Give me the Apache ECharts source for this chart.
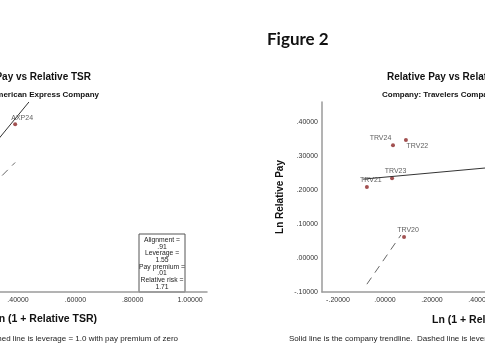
<!DOCTYPE html>
<html>
<head>
<meta charset="utf-8">
<script src="https://cdn.jsdelivr.net/npm/echarts@6/dist/echarts.min.js"></script>
<style>html,body{margin:0;padding:0;background:#fff}#c{width:485px;height:360px}</style>
</head>
<body>
<div id="c"></div>
<script>
// ---- Data: left panel (American Express) ----
const axpNames = ['AXP24'];
const axpX = [0.39];
const axpY = [0.523];
const axpTrendX = [0.10, 0.438];
const axpTrendY = [0.19, 0.60];
const axpLevX = [0.00, 0.39];
const axpLevY = [0.00, 0.39];
const axpStats = ['Alignment =', '.91', 'Leverage =', '1.55', 'Pay premium =', '.01', 'Relative risk =', '1.71'];

// ---- Data: right panel (Travelers) ----
const trvNames = ['TRV20', 'TRV21', 'TRV22', 'TRV23', 'TRV24'];
const trvX = [0.081, -0.077, 0.089, 0.030, 0.034];
const trvY = [0.062, 0.209, 0.347, 0.235, 0.332];
const trvTrendX = [-0.094, 1.0];
const trvTrendY = [0.232, 0.301];
const trvLevX = [-0.077, 0.068];
const trvLevY = [-0.077, 0.068];

// tick values
const xTicks = [-0.2, 0.0, 0.2, 0.4, 0.6, 0.8, 1.0];
const yTicksRight = [-0.1, 0.0, 0.1, 0.2, 0.3, 0.4];

// ---- styling ----
const labelOffsets = {
  AXP24: [7, -6], TRV20: [4, -7], TRV21: [4, -7], TRV22: [11.5, 6], TRV23: [3.5, -7], TRV24: [-12.5, -7]
};
const FONT = 'Liberation Sans, Arial, sans-serif';
const POINT = '#8B2525';

function fmt(v) {
  const s = Math.abs(v).toFixed(5);
  const t = s.startsWith('0.') ? s.slice(1) : s;
  return (v < -1e-9 ? '-' : '') + t;
}
function pts(names, xs, ys) {
  return names.map((n, i) => ({
    name: n, value: [xs[i], ys[i]],
    label: { offset: labelOffsets[n] }
  }));
}
function pairs(xs, ys) { return xs.map((x, i) => [x, ys[i]]); }

const axisLineStyle = { show: true, onZero: false, lineStyle: { color: '#9a9a9a', width: 1.5 } };
function xAxis(grid, min, max) {
  return {
    type: 'value', gridIndex: grid, min: min, max: max,
    axisLine: axisLineStyle, axisTick: { show: false }, splitLine: { show: false },
    axisLabel: { customValues: xTicks, formatter: fmt, fontSize: 7, color: '#333', margin: 5, fontFamily: FONT }
  };
}

const chart = echarts.init(document.getElementById('c'), null, { renderer: 'canvas' });
const option = {
  animation: false,
  backgroundColor: '#fff',
  grid: [
    { left: -154, top: 102, width: 361, height: 190, containLabel: false, outerBoundsMode: 'none' },
    { left: 322, top: 102, width: 315, height: 190, containLabel: false, outerBoundsMode: 'none' }
  ],
  xAxis: [xAxis(0, -0.2, 1.059), xAxis(1, -0.268, 1.072)],
  yAxis: [
    { type: 'value', gridIndex: 0, min: -0.06, max: 0.6, axisLine: axisLineStyle, axisTick: { show: false },
      splitLine: { show: false }, axisLabel: { show: false } },
    { type: 'value', gridIndex: 1, min: -0.1, max: 0.459, axisLine: axisLineStyle, axisTick: { show: false },
      splitLine: { show: false },
      axisLabel: { customValues: yTicksRight, formatter: fmt, fontSize: 7, color: '#333', margin: 4, fontFamily: FONT } }
  ],
  series: [
    { type: 'line', xAxisIndex: 0, yAxisIndex: 0, data: pairs(axpTrendX, axpTrendY), symbol: 'none',
      lineStyle: { color: '#333', width: 1 } },
    { type: 'line', xAxisIndex: 0, yAxisIndex: 0, data: pairs(axpLevX, axpLevY), symbol: 'none',
      lineStyle: { color: '#666', width: 1, type: [8, 6] } },
    { type: 'scatter', xAxisIndex: 0, yAxisIndex: 0, data: pts(axpNames, axpX, axpY), symbolSize: 4,
      itemStyle: { color: POINT },
      label: { show: true, position: 'inside', formatter: '{b}', fontSize: 7, color: '#333', fontFamily: FONT } },
    { type: 'line', xAxisIndex: 1, yAxisIndex: 1, data: pairs(trvTrendX, trvTrendY), symbol: 'none',
      lineStyle: { color: '#333', width: 1 } },
    { type: 'line', xAxisIndex: 1, yAxisIndex: 1, data: pairs(trvLevX, trvLevY), symbol: 'none',
      lineStyle: { color: '#666', width: 1, type: [8, 6] } },
    { type: 'scatter', xAxisIndex: 1, yAxisIndex: 1, data: pts(trvNames, trvX, trvY), symbolSize: 4,
      itemStyle: { color: POINT },
      label: { show: true, position: 'inside', formatter: '{b}', fontSize: 7, color: '#333', fontFamily: FONT } }
  ],
  graphic: [
    { type: 'text', x: 267, y: 40, style: { text: 'Figure 2', font: 'bold 17px Lato, sans-serif', fill: '#111', textAlign: 'left', textVerticalAlign: 'middle' } },
    // left panel texts
    { type: 'text', x: 91, y: 77, style: { text: 'Relative Pay vs Relative TSR', font: 'bold 10px ' + FONT, fill: '#111', textAlign: 'right', textVerticalAlign: 'middle' } },
    { type: 'text', x: 99, y: 95, style: { text: 'Company: American Express Company', font: 'bold 8px ' + FONT, fill: '#111', textAlign: 'right', textVerticalAlign: 'middle' } },
    { type: 'text', x: 97, y: 319, style: { text: 'Ln (1 + Relative TSR)', font: 'bold 10.5px ' + FONT, fill: '#111', textAlign: 'right', textVerticalAlign: 'middle' } },
    { type: 'text', x: 178, y: 339, style: { text: 'Solid line is the company trendline.  Dashed line is leverage = 1.0 with pay premium of zero', font: '8px ' + FONT, fill: '#222', textAlign: 'right', textVerticalAlign: 'middle' } },
    { type: 'rect', shape: { x: 139, y: 234, width: 46, height: 58 }, style: { fill: '#fff', stroke: '#555', lineWidth: 1 } },
    { type: 'text', x: 162, y: 263.5, style: { text: axpStats.join('\n'), font: '6.8px ' + FONT, lineHeight: 6.7, fill: '#222', textAlign: 'center', textVerticalAlign: 'middle' } },
    // right panel texts
    { type: 'text', x: 387, y: 77, style: { text: 'Relative Pay vs Relative TSR', font: 'bold 10px ' + FONT, fill: '#111', textAlign: 'left', textVerticalAlign: 'middle' } },
    { type: 'text', x: 382, y: 95, style: { text: 'Company: Travelers Company', font: 'bold 8px ' + FONT, fill: '#111', textAlign: 'left', textVerticalAlign: 'middle' } },
    { type: 'text', x: 432, y: 320, style: { text: 'Ln (1 + Relative TSR)', font: 'bold 10.5px ' + FONT, fill: '#111', textAlign: 'left', textVerticalAlign: 'middle' } },
    { type: 'text', x: 280, y: 197, rotation: Math.PI / 2, style: { text: 'Ln Relative Pay', font: 'bold 10px ' + FONT, fill: '#111', textAlign: 'center', textVerticalAlign: 'middle' } },
    { type: 'text', x: 289, y: 339, style: { text: 'Solid line is the company trendline.  Dashed line is leverage = 1.0 with pay premium of zero', font: '8px ' + FONT, fill: '#222', textAlign: 'left', textVerticalAlign: 'middle' } }
  ]
};
chart.setOption(option);
</script>
</body>
</html>
